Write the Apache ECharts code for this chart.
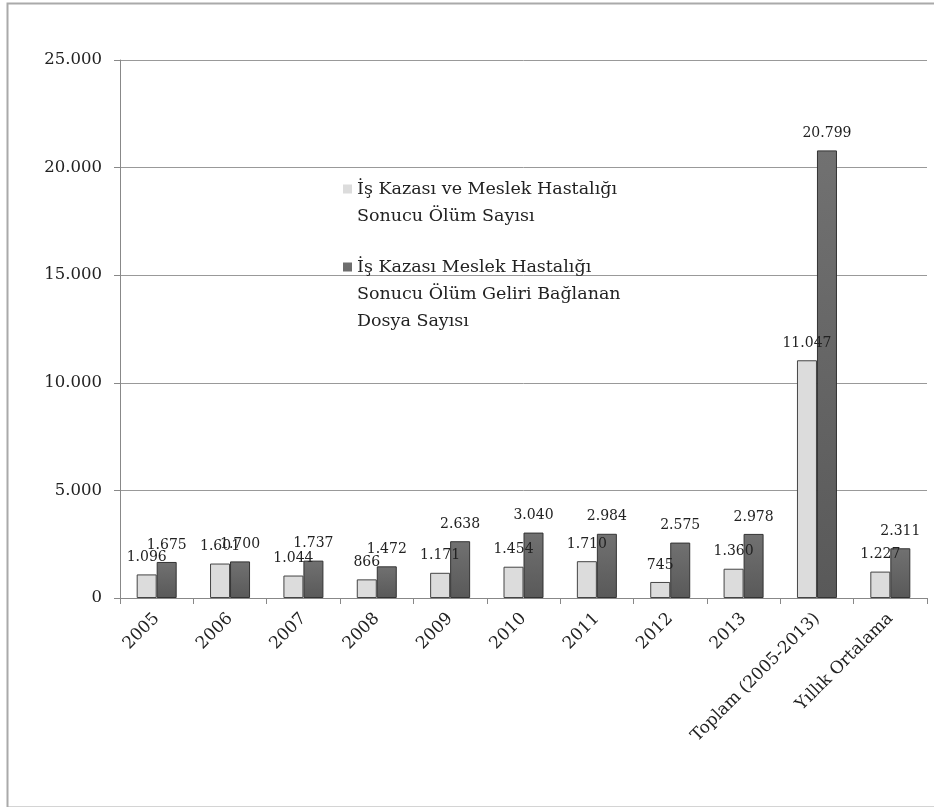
<!DOCTYPE html>
<html>
<head>
<meta charset="utf-8">
<script src="https://cdn.jsdelivr.net/npm/echarts@6/dist/echarts.min.js"></script>
<style>
html,body{margin:0;padding:0;background:#fff;}
#c{width:934px;height:807px;}
</style>
</head>
<body>
<div id="c"></div>
<script>
const categories = ['2005','2006','2007','2008','2009','2010','2011','2012','2013','Toplam (2005-2013)','Yıllık Ortalama'];
const seriesNames = ['İş Kazası ve Meslek Hastalığı\nSonucu Ölüm Sayısı', 'İş Kazası Meslek Hastalığı\nSonucu Ölüm Geliri Bağlanan\nDosya Sayısı'];
const deaths = [1096, 1601, 1044, 866, 1171, 1454, 1710, 745, 1360, 11047, 1227];
const files = [1675, 1700, 1737, 1472, 2638, 3040, 2984, 2575, 2978, 20799, 2311];
const yTicks = [0, 5000, 10000, 15000, 20000, 25000];

const fmt = v => String(v).replace(/\B(?=(\d{3})+(?!\d))/g, '.');
const FONT = 'DejaVu Serif';

const chart = echarts.init(document.getElementById('c'));
const icon1 = 'path://M0,0h0.01v0.01h-0.01z M0,8.5h9v9h-9z M8.99,53.99h0.01v0.01h-0.01z';
const icon2 = 'path://M0,0h0.01v0.01h-0.01z M0,8.5h9v9h-9z M8.99,80.99h0.01v0.01h-0.01z';

chart.setOption({
  animation: false,
  backgroundColor: '#fff',
  graphic: [{
    type: 'rect', left: 5, top: 1, silent: true,
    shape: { width: 960, height: 804 },
    style: { fill: 'none', stroke: '#aaa', lineWidth: 2 }
  }],
  legend: [{
    data: [{ name: seriesNames[0], icon: icon1 }],
    left: 338, top: 171, itemWidth: 9, itemHeight: 54,
    itemStyle: { borderWidth: 0 },
    textStyle: { fontFamily: FONT, fontSize: 17.5, color: '#222', lineHeight: 27 }
  }, {
    data: [{ name: seriesNames[1], icon: icon2 }],
    left: 338, top: 249, itemWidth: 9, itemHeight: 81,
    itemStyle: { borderWidth: 0 },
    textStyle: { fontFamily: FONT, fontSize: 17.5, color: '#222', lineHeight: 27 }
  }],
  grid: { left: 120, right: 7, top: 60, bottom: 209, containLabel: false },
  xAxis: {
    type: 'category', data: categories,
    axisLine: { lineStyle: { color: '#888', width: 1 } },
    axisTick: { show: true, length: 6, lineStyle: { color: '#888' } },
    axisLabel: { rotate: 45, margin: 18, fontFamily: FONT, fontSize: 17, color: '#222', interval: 0 }
  },
  yAxis: {
    type: 'value', min: 0, max: 25000, interval: 5000,
    axisLine: { show: true, lineStyle: { color: '#888' } },
    axisTick: { show: true, length: 6, lineStyle: { color: '#888' } },
    splitLine: { lineStyle: { color: '#999', width: 1 } },
    axisLabel: {
      margin: 18, fontFamily: FONT, fontSize: 16.5, color: '#222',
      formatter: v => yTicks.includes(v) ? fmt(v) : ''
    }
  },
  series: [{
    name: seriesNames[0], type: 'bar', data: deaths,
    barWidth: 20, barGap: '0%',
    itemStyle: { color: '#dcdcdc', borderColor: '#444', borderWidth: 1 },
    label: { show: true, position: 'top', distance: 10, fontFamily: FONT, fontSize: 14, color: '#222',
      formatter: p => fmt(p.value) }
  }, {
    name: seriesNames[1], type: 'bar', data: files,
    barWidth: 20, barGap: '0%',
    itemStyle: {
      color: new echarts.graphic.LinearGradient(0, 0, 0, 1, [
        { offset: 0, color: '#717171' }, { offset: 1, color: '#595959' }
      ]),
      borderColor: '#333', borderWidth: 1
    },
    label: { show: true, position: 'top', distance: 10, fontFamily: FONT, fontSize: 14, color: '#222',
      formatter: p => fmt(p.value) }
  }]
});
</script>
</body>
</html>
